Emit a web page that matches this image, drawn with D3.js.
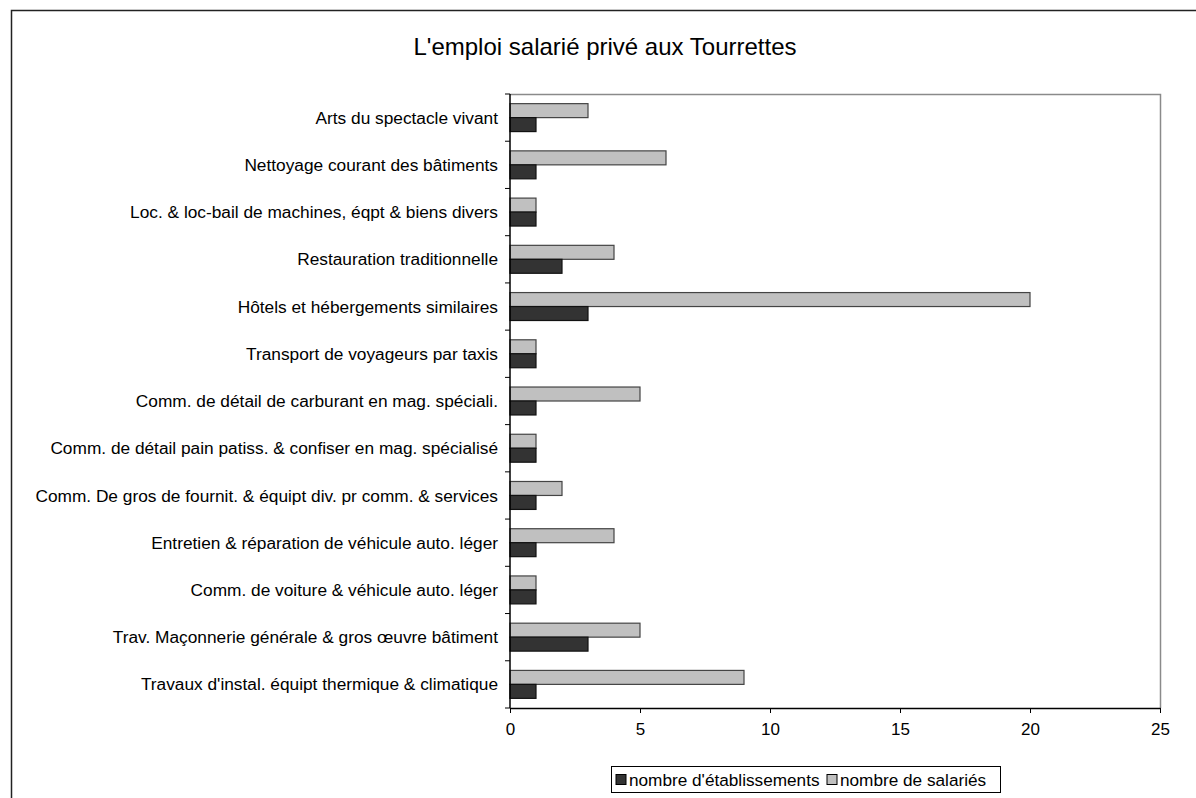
<!DOCTYPE html>
<html>
<head>
<meta charset="utf-8">
<script src="https://cdn.jsdelivr.net/npm/d3@7"></script>
<style>
  body { margin: 0; background: #fff; }
  text { font-family: "Liberation Sans", Arial, sans-serif; fill: #000; }
</style>
</head>
<body>
<svg id="chart" width="1196" height="798"></svg>
<script>
// categories, top to bottom
var categories = [
    "Arts du spectacle vivant",
    "Nettoyage courant des bâtiments",
    "Loc. & loc-bail de machines, éqpt & biens divers",
    "Restauration traditionnelle",
    "Hôtels et hébergements similaires",
    "Transport de voyageurs par taxis",
    "Comm. de détail de carburant en mag. spéciali.",
    "Comm. de détail pain patiss. & confiser en mag. spécialisé",
    "Comm. De gros de fournit. & équipt div. pr comm. & services",
    "Entretien & réparation de véhicule auto. léger",
    "Comm. de voiture & véhicule auto. léger",
    "Trav. Maçonnerie générale & gros œuvre bâtiment",
    "Travaux d'instal. équipt thermique & climatique"
];
var salaries        = [3, 6, 1, 4, 20, 1, 5, 1, 2, 4, 1, 5, 9];
var etablissements  = [1, 1, 1, 2, 3, 1, 1, 1, 1, 1, 1, 3, 1];
var seriesNames = ["nombre d'établissements", "nombre de salariés"];
var xTicks = [0, 5, 10, 15, 20, 25];
var title = "L'emploi salarié privé aux Tourrettes";

var svg = d3.select("#chart");
var plotLeft = 510, plotRight = 1160, plotTop = 94, plotBottom = 708;
var colors = { etab: "#333333", sal: "#c0c0c0" };

// outer frame (runs off the right and bottom edges)
svg.append("rect")
    .attr("x", 11.5).attr("y", 10.5)
    .attr("width", 1200).attr("height", 800)
    .attr("fill", "none").attr("stroke", "#222").attr("stroke-width", 1.5);

svg.append("text")
    .attr("x", 605).attr("y", 55)
    .attr("text-anchor", "middle")
    .style("font-size", "24px")
    .text(title);

var x = d3.scaleLinear().domain([0, 25]).range([plotLeft, plotRight]);
var y = d3.scaleBand().domain(categories).range([plotTop, plotBottom]);
var sub = d3.scaleBand().domain(["sal", "etab"]).range([0, y.bandwidth()]).paddingInner(0).paddingOuter(0.69);

// plot area border (grey top & right)
svg.append("path")
    .attr("d", "M" + plotLeft + "," + (plotTop + 0.5) + "H" + (plotRight + 0.5) + "V" + plotBottom)
    .attr("fill", "none").attr("stroke", "#8a8a8a").attr("stroke-width", 1.5);

var rows = svg.append("g").selectAll("g")
    .data(categories)
    .enter().append("g")
    .attr("transform", function(d) { return "translate(0," + y(d) + ")"; });

rows.append("rect")
    .attr("x", x(0))
    .attr("y", sub("sal"))
    .attr("width", function(d, i) { return x(salaries[i]) - x(0); })
    .attr("height", sub.bandwidth())
    .attr("fill", colors.sal).attr("stroke", "#444").attr("stroke-width", 1.2);

rows.append("rect")
    .attr("x", x(0))
    .attr("y", sub("etab"))
    .attr("width", function(d, i) { return x(etablissements[i]) - x(0); })
    .attr("height", sub.bandwidth())
    .attr("fill", colors.etab).attr("stroke", "#111").attr("stroke-width", 1.2);

// x axis
var xAxis = svg.append("g")
    .attr("transform", "translate(0," + plotBottom + ")")
    .call(d3.axisBottom(x).tickValues(xTicks).tickSize(5).tickSizeOuter(0).tickPadding(10));
xAxis.selectAll("text").style("font-size", "17px").style("font-family", "'Liberation Sans', Arial, sans-serif");
xAxis.select(".domain").attr("stroke-width", 1.5);

// y axis: ticks between categories, labels centred
var bounds = categories.map(function(d) { return y(d); }).concat([plotBottom]);
var yAxis = svg.append("g");
yAxis.append("line")
    .attr("x1", plotLeft).attr("x2", plotLeft).attr("y1", plotTop).attr("y2", plotBottom)
    .attr("stroke", "#000").attr("stroke-width", 1.5);
yAxis.selectAll(".tk").data(bounds).enter().append("line")
    .attr("x1", plotLeft - 5).attr("x2", plotLeft)
    .attr("y1", function(d) { return d; }).attr("y2", function(d) { return d; })
    .attr("stroke", "#000");
yAxis.selectAll(".lbl").data(categories).enter().append("text")
    .attr("x", plotLeft - 12)
    .attr("y", function(d) { return y(d) + y.bandwidth() / 2; })
    .attr("dy", "0.35em")
    .attr("text-anchor", "end")
    .style("font-size", "17.3px")
    .text(function(d) { return d; });

// legend
var legend = svg.append("g").attr("transform", "translate(611,766)");
legend.append("rect")
    .attr("x", 0.5).attr("y", 0.5).attr("width", 389).attr("height", 26)
    .attr("fill", "#fff").attr("stroke", "#000");
var items = [
    { name: seriesNames[0], color: colors.etab, x: 5 },
    { name: seriesNames[1], color: colors.sal, x: 216 }
];
var li = legend.selectAll(".item").data(items).enter().append("g")
    .attr("transform", function(d) { return "translate(" + d.x + ",0)"; });
li.append("rect")
    .attr("x", 0).attr("y", 8.5).attr("width", 10).attr("height", 10)
    .attr("fill", function(d) { return d.color; }).attr("stroke", "#000");
li.append("text")
    .attr("x", 13).attr("y", 14).attr("dy", "0.35em")
    .style("font-size", "17.2px")
    .text(function(d) { return d.name; });
</script>
</body>
</html>
